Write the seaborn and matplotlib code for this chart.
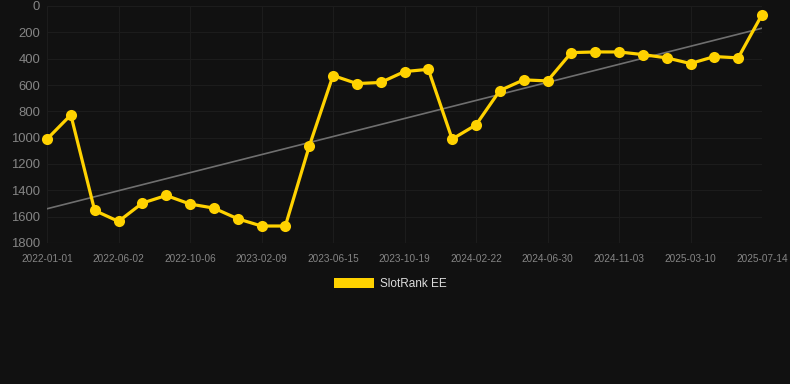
import numpy as np
import pandas as pd
import matplotlib
matplotlib.use("Agg")
import matplotlib.pyplot as plt
from matplotlib.patches import Patch
import seaborn as sns

# rank per snapshot (lower is better), 31 snapshots
ranks = [1011, 827, 1553, 1636, 1497, 1439, 1504, 1535, 1616, 1671, 1671,
         1067, 528, 589, 581, 498, 481, 1011, 903, 642, 561, 569,
         354, 349, 349, 369, 394, 437, 384, 394, 66]
tick_labels = ["2022-01-01", "2022-06-02", "2022-10-06", "2023-02-09",
               "2023-06-15", "2023-10-19", "2024-02-22", "2024-06-30",
               "2024-11-03", "2025-03-10", "2025-07-14"]
series_name = "SlotRank EE"

bg = "#111111"
gold = "#FFD200"

df = pd.DataFrame({"idx": np.arange(len(ranks)), "rank": ranks})

sns.set_theme(style="dark")
plt.rcParams["font.family"] = ["Liberation Sans", "DejaVu Sans"]

fig = plt.figure(figsize=(7.9, 3.84), dpi=100, facecolor=bg)
ax = fig.add_axes([47 / 790, 1 - 243 / 384, 715 / 790, 237 / 384])
ax.set_facecolor(bg)

# trend line under the series
sns.regplot(data=df, x="idx", y="rank", scatter=False, ci=None, ax=ax,
            line_kws={"color": "#6f6f6f", "lw": 1.2, "zorder": 2})
sns.lineplot(data=df, x="idx", y="rank", ax=ax, color=gold, lw=2.3,
             marker="o", markersize=8, markeredgewidth=0, zorder=3,
             clip_on=False)

ax.set_xlim(0, len(ranks) - 1)
ax.set_ylim(1800, 0)
ax.set_yticks(np.arange(0, 1801, 200))
ax.set_xticks(np.arange(0, len(ranks), 3))
ax.set_xticklabels(tick_labels)
ax.tick_params(axis="x", labelsize=7.2, colors="#858585", length=0, pad=8)
ax.tick_params(axis="y", labelsize=9.4, colors="#858585", length=0, pad=5)
ax.set_xlabel("")
ax.set_ylabel("")
ax.grid(True, color="#1c1c1c", lw=0.8)
for s in ax.spines.values():
    s.set_visible(False)
ax.axhline(1800, color="#262626", lw=0.8, zorder=1)

handle = Patch(facecolor=gold, edgecolor="none")
fig.legend([handle], [series_name], loc="center", bbox_to_anchor=(390 / 790, 1 - 284 / 384),
           frameon=False, fontsize=8.5, labelcolor="#dddddd",
           handlelength=3.4, handleheight=1.0, handletextpad=0.5)

fig.savefig("out.png", dpi=100, facecolor=bg)
